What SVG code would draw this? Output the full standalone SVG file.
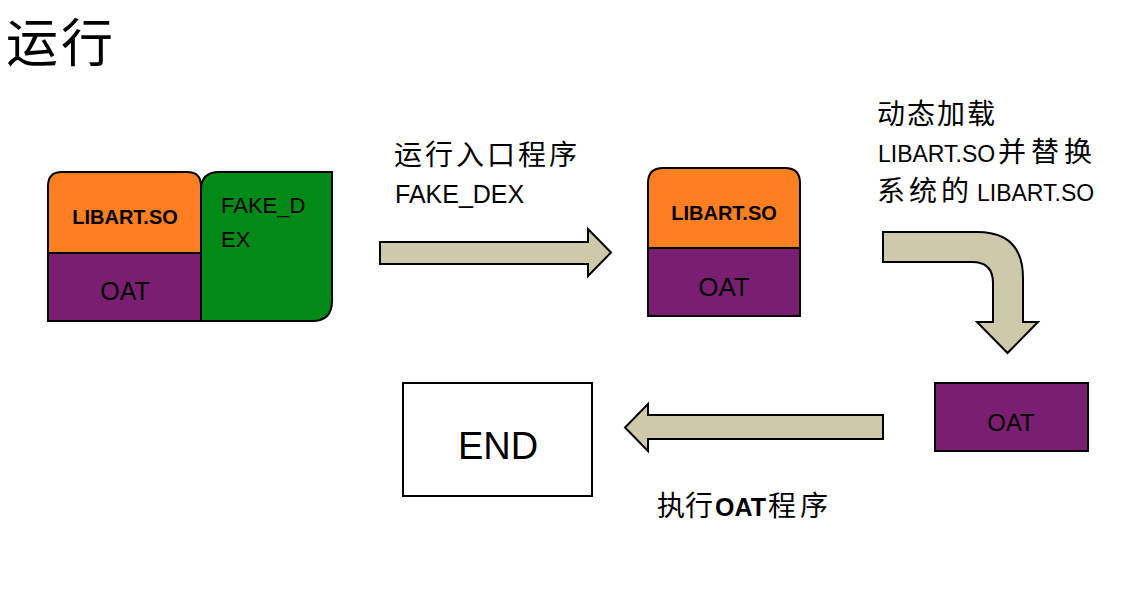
<svg xmlns="http://www.w3.org/2000/svg" width="1126" height="610" viewBox="0 0 1126 610">
<style>
  .box { stroke: #000; stroke-width: 2; }
  .orange { fill: #FE7F22; }
  .purple { fill: #7A1E72; }
  .green { fill: #018A18; }
  .white { fill: #fff; }
  .arrow { fill: #CEC9AA; stroke: #000; stroke-width: 2; stroke-linejoin: miter; }
  text { font-family: "Liberation Sans", "Noto Sans CJK SC", sans-serif; fill: #000; }
  .lib { font-weight: bold; font-size: 20px; text-anchor: middle; }
  .oat { font-size: 25px; text-anchor: middle; }
  .cjk { font-family: "Noto Sans CJK SC", sans-serif; font-size: 28px; }
  .lat { font-family: "Liberation Sans", sans-serif; font-size: 24px; }
</style>
<rect width="1126" height="610" fill="#fff"/>

<text x="6" y="62" letter-spacing="3" style="font-family:'Noto Sans CJK SC', sans-serif; font-size:52px;">运行</text>

<g id="node-left">
  <path class="box orange" d="M48,253 L48,186 Q48,172 62,172 L187,172 Q201,172 201,186 L201,253 Z"/>
  <rect class="box purple" x="48" y="253" width="153" height="68"/>
  <path class="box green" d="M201,321 L201,190 Q201,172 219,172 L332,172 L332,301 Q332,321 312,321 Z"/>
  <text class="lib" x="125" y="224">LIBART.SO</text>
  <text class="oat" x="125" y="300">OAT</text>
  <text x="221" y="213" style="font-size:22px;">FAKE_D</text>
  <text x="221" y="247" style="font-size:22px;">EX</text>
</g>

<g id="node-middle">
  <path class="box orange" d="M648,248 L648,183 Q648,168 663,168 L785,168 Q800,168 800,183 L800,248 Z"/>
  <rect class="box purple" x="648" y="248" width="152" height="68"/>
  <text class="lib" x="724" y="220">LIBART.SO</text>
  <text class="oat" x="724" y="296" style="font-size:26px;">OAT</text>
</g>

<g id="node-oat">
  <rect class="box purple" x="935" y="383" width="153" height="68"/>
  <text class="oat" x="1011" y="431" style="font-size:24px;">OAT</text>
</g>

<g id="node-end">
  <rect class="box white" x="403" y="383" width="189" height="113"/>
  <text x="498" y="459" style="font-size:38px; text-anchor:middle;">END</text>
</g>

<g id="connectors">
  <path class="arrow" d="M380,242 L588,242 L588,229 L611,252.5 L588,276 L588,264 L380,264 Z"/>
  <text x="394" y="165"><tspan class="cjk" letter-spacing="3">运行入口程序</tspan></text>
  <text x="395" y="203" style="font-size:25px;">FAKE_DEX</text>

  <path class="arrow" d="M883,232 L977,232 Q1023,232 1023,278 L1023,322 L1038,322 L1007.5,353 L977,322 L993,322 L993,283 Q993,262 972,262 L883,262 Z"/>
  <text x="877" y="124"><tspan class="cjk" letter-spacing="2">动态加载</tspan></text>
  <text x="878" y="162"><tspan class="lat" style="font-size:23px;">LIBART.SO</tspan><tspan class="cjk" x="998" letter-spacing="5">并替换</tspan></text>
  <text x="877" y="201"><tspan class="cjk" letter-spacing="4">系统的</tspan><tspan class="lat" x="977" style="font-size:23px;">LIBART.SO</tspan></text>

  <path class="arrow" d="M883,415 L648,415 L648,404 L625,427.5 L648,451 L648,439 L883,439 Z"/>
  <text x="657" y="516"><tspan class="cjk">执行</tspan><tspan x="715" style="font-family:'Liberation Sans',sans-serif; font-weight:bold; font-size:25px;">OAT</tspan><tspan class="cjk" x="768" letter-spacing="4">程序</tspan></text>
</g>
</svg>
